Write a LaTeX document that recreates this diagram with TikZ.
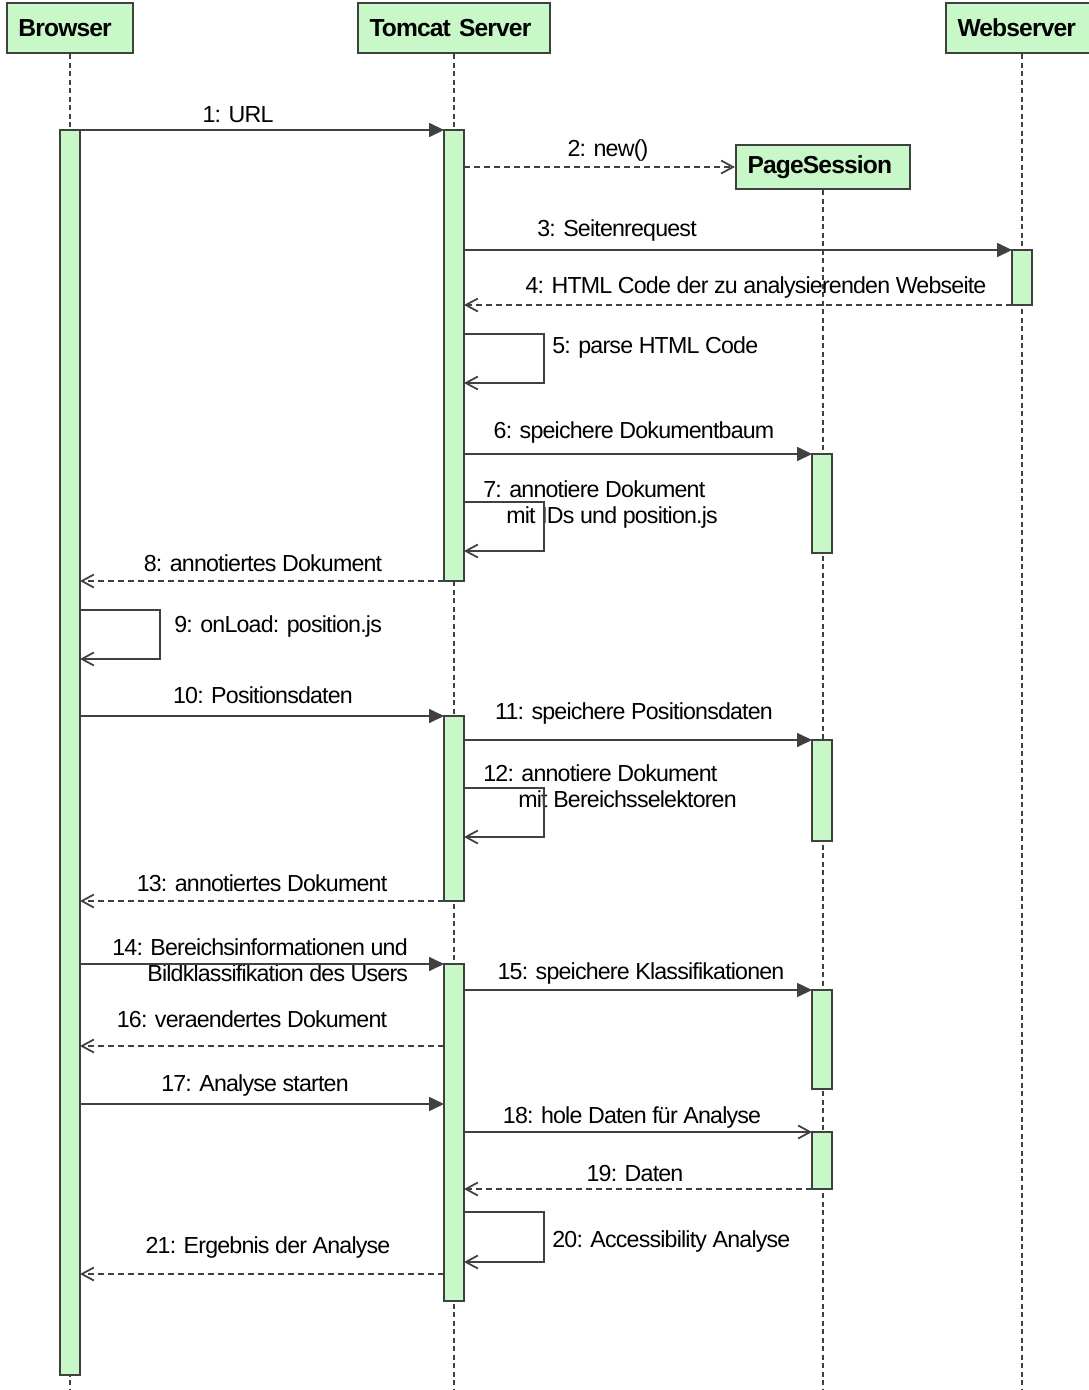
\documentclass[tikz,border=0pt]{standalone}
\usepackage{fontspec}
\setmainfont{Liberation Sans}[LetterSpace=-3.5]
\usetikzlibrary{arrows.meta,calc}
\definecolor{umlgreen}{HTML}{C8F8C8}
\definecolor{umlline}{HTML}{404040}
\begin{document}
\begin{tikzpicture}[x=0.2mm,y=-0.2mm,font=\fontsize{13.2}{14.8}\selectfont,
  head/.style={draw=umlline,fill=umlgreen,line width=1.2pt,minimum height=10mm,inner xsep=2.3mm,inner ysep=0pt,align=left,font=\fontsize{14}{16}\selectfont\bfseries},
  act/.style={draw=umlline,fill=umlgreen,line width=1.2pt,minimum width=4mm,inner sep=0pt,outer sep=0pt},
  life/.style={draw=umlline,line width=0.8pt,dash pattern=on 1mm off 0.7mm},
  call/.style={draw=umlline,line width=1pt,-{Triangle[length=3mm,width=2.8mm]}},
  async/.style={draw=umlline,line width=1pt,-{Straight Barb[length=2.4mm,width=2.6mm]}},
  reply/.style={async,dash pattern=on 1.2mm off 0.8mm},
  lbl/.style={inner sep=0pt}]
\useasboundingbox (0,0) rectangle (1088,1390);
\coordinate (bottom) at (0,1390);

\node[head,text width=20.6mm] (Browser) at (70,28) {Browser};
\node[head,text width=33.8mm] (Tomcat) at (454,28) {Tomcat Server};
\node[head,text width=25.8mm] (Webserver) at (1022,28) {Webserver};
\node[head,text width=30.2mm,minimum height=8.8mm] (PageSession) at (823,167) {PageSession};

\draw[life] (Browser.south) -- (Browser.south |- bottom);
\draw[life] (Tomcat.south) -- (Tomcat.south |- bottom);
\draw[life] (Webserver.south) -- (Webserver.south |- bottom);
\draw[life] (PageSession.south) -- (PageSession.south |- bottom);

\node[act,minimum height=249mm] (B0) at (70,752.5) {};
\node[act,minimum height=90.2mm] (T1) at (454,355.5) {};
\node[act,minimum height=11mm] (W1) at (1022,277.5) {};
\node[act,minimum height=19.8mm] (P1) at (822,503.5) {};
\node[act,minimum height=37mm] (T2) at (454,808.5) {};
\node[act,minimum height=20.2mm] (P2) at (822,790.5) {};
\node[act,minimum height=67.4mm] (T3) at (454,1132.5) {};
\node[act,minimum height=19.8mm] (P3) at (822,1039.5) {};
\node[act,minimum height=11.4mm] (P4) at (822,1160.5) {};

\coordinate (m16) at ($(T3.north west)+(0,82)$);
\coordinate (m17) at ($(T3.north west)+(0,140)$);
\coordinate (m21) at ($(T3.north west)+(0,310)$);

\node[lbl] (l1) at (238,115) {1: URL};
\node[lbl] (l2) at (608,150) {2: new()};
\node[lbl] (l3) at (617,230) {3: Seitenrequest};
\node[lbl] (l4) at (756,287) {4: HTML Code der zu analysierenden Webseite};
\node[lbl,anchor=west] (l5) at (552,347) {5: parse HTML Code};
\node[lbl] (l6) at (634,432) {6: speichere Dokumentbaum};
\node[lbl,align=left,anchor=west] (l7) at (483,504) {7: annotiere Dokument\\\hspace*{4.6mm}mit IDs und position.js};
\node[lbl] (l8) at (263,563) {8: annotiertes Dokument};
\node[lbl,anchor=west] (l9) at (174,626) {9: onLoad: position.js};
\node[lbl] (l10) at (263,695) {10: Positionsdaten};
\node[lbl] (l11) at (634,713) {11: speichere Positionsdaten};
\node[lbl,align=left,anchor=west] (l12) at (483,786) {12: annotiere Dokument\\\hspace*{7mm}mit Bereichsselektoren};
\node[lbl] (l13) at (262,883) {13: annotiertes Dokument};
\node[lbl,align=left,anchor=west] (l14) at (112,960) {14: Bereichsinformationen und\\\hspace*{7mm}Bildklassifikation des Users};
\node[lbl] (l15) at (641,973) {15: speichere Klassifikationen};
\node[lbl] (l16) at (252,1019) {16: veraendertes Dokument};
\node[lbl] (l17) at (255,1085) {17: Analyse starten};
\node[lbl] (l18) at (632,1117) {18: hole Daten für Analyse};
\node[lbl] (l19) at (635,1173) {19: Daten};
\node[lbl,anchor=west] (l20) at (552,1241) {20: Accessibility Analyse};
\node[lbl] (l21) at (268,1247) {21: Ergebnis der Analyse};

\draw[call] (B0.north east) -- (T1.north west);
\draw[reply] (T1.east |- PageSession.west) -- (PageSession.west);
\draw[call] (T1.east |- W1.north) -- (W1.north west);
\draw[reply] (W1.south west) -- (T1.east |- W1.south);
\draw[async] ($(T1.north east)+(0,204)$) -- ++(80,0) -- ++(0,49) -- ++(-80,0);
\draw[call] (T1.east |- P1.north) -- (P1.north west);
\draw[async] ($(T1.north east)+(0,372)$) -- ++(80,0) -- ++(0,49) -- ++(-80,0);
\draw[reply] (T1.south west) -- (B0.east |- T1.south);
\draw[async] ($(B0.north east)+(0,480)$) -- ++(80,0) -- ++(0,49) -- ++(-80,0);
\draw[call] (B0.east |- T2.north) -- (T2.north west);
\draw[call] (T2.east |- P2.north) -- (P2.north west);
\draw[async] ($(T2.north east)+(0,72)$) -- ++(80,0) -- ++(0,49) -- ++(-80,0);
\draw[reply] (T2.south west) -- (B0.east |- T2.south);
\draw[call] (B0.east |- T3.north) -- (T3.north west);
\draw[call] (T3.east |- P3.north) -- (P3.north west);
\draw[reply] (m16) -- (B0.east |- m16);
\draw[call] (B0.east |- m17) -- (m17);
\draw[async] (T3.east |- P4.north) -- (P4.north west);
\draw[reply] (P4.south west) -- (T3.east |- P4.south);
\draw[async] ($(T3.north east)+(0,248)$) -- ++(80,0) -- ++(0,50) -- ++(-80,0);
\draw[reply] (m21) -- (B0.east |- m21);
\end{tikzpicture}
\end{document}
